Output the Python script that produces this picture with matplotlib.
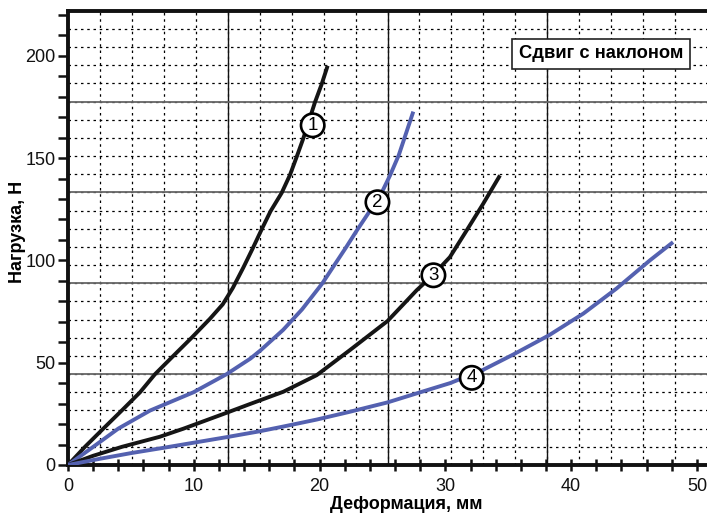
import matplotlib
matplotlib.use("Agg")
import matplotlib.pyplot as plt
import numpy as np

plt.rcParams['font.family'] = ['Liberation Sans', 'DejaVu Sans']

# Data (deformation, mm -> load, N)
x1 = [0, 1.35, 2.81, 4.27, 5.72, 6.92, 8.37, 9.83, 11.29, 12.3, 13.1, 13.94,
      14.68, 15.4, 16.1, 16.98, 17.65, 18.18, 18.7, 19.63, 20.16, 20.64]
y1 = [0, 8.9, 17.8, 26.6, 35.5, 44.4, 53.3, 62.2, 71.5, 78.5, 86.5, 96.5,
      105.8, 115.2, 124, 132.9, 141.8, 150.6, 159.5, 177.2, 186, 195.1]

x2 = [0, 2.01, 4.0, 6.52, 9.96, 12.61, 14.5, 15.3, 17.1, 18.6, 20.2, 21.1,
      22.1, 22.95, 23.87, 24.93, 25.6, 26.3, 27.45]
y2 = [0, 8.9, 17.8, 26.6, 35.5, 44.4, 52, 56, 66, 76, 88.6, 97,
      106.3, 114.5, 123, 133, 141.5, 151.5, 172.7]

x3 = [0, 2.0, 4.3, 7.3, 9.2, 12.6, 14.47, 17.12, 19.77, 22.4, 25.41, 27.72,
      29.0, 30.36, 31.69, 33.0, 34.34]
y3 = [0, 4.5, 8.9, 13.8, 17.8, 25.5, 29.8, 35.8, 43.9, 56.1, 70.4, 85.4,
      92.7, 101.6, 114.6, 127.6, 141.5]

x4 = [0, 2.5, 5, 7.5, 10, 12.6, 15.26, 17.12, 19.77, 22.4, 25.41, 27.72, 30.37,
      33.0, 35.4, 38.24, 40.97, 43.6, 46.26, 48.1]
y4 = [0, 3, 5.8, 8.3, 10.9, 13.6, 16.5, 18.8, 22.2, 26, 30.6, 35, 40,
      46.5, 54, 63.4, 74, 86.2, 100, 108.9]

labels = ['1', '2', '3', '4']
label_pos = [(19.45, 166), (24.6, 128.4), (29.05, 92.7), (32.1, 42.6)]

title = 'Сдвиг с наклоном'
xlabel = 'Деформация, мм'
ylabel = 'Нагрузка, Н'

BLACK = '#151515'
BLUE = '#5461b0'

fig = plt.figure(figsize=(7.07, 5.15), dpi=100)
ax = fig.add_axes([0.0962, 0.0971, 0.9038, 0.8821])

xmax, ymax = 50.8, 222.0
ax.set_xlim(0, xmax)
ax.set_ylim(0, ymax)

# grid: 4 x 5 major cells, each split in 5
for gx in np.linspace(0, xmax, 21)[1:-1]:
    ax.axvline(gx, color='black', lw=0.9, ls=(0, (2, 3)), zorder=1)
for gy in np.linspace(0, ymax, 26)[1:-1]:
    ax.axhline(gy, color='black', lw=0.9, ls=(0, (2, 3)), zorder=1)
for gx in np.linspace(0, xmax, 5)[1:-1]:
    ax.axvline(gx, color='#111111', lw=1.0, zorder=1.5)
for gy in np.linspace(0, ymax, 6)[1:-1]:
    ax.axhline(gy, color='#666666', lw=1.3, zorder=1.5)

ax.plot(x1, y1, color=BLACK, lw=2.8, zorder=3, solid_capstyle='butt', solid_joinstyle='round')
ax.plot(x2, y2, color=BLUE, lw=2.8, zorder=3, solid_capstyle='butt', solid_joinstyle='round')
ax.plot(x3, y3, color=BLACK, lw=2.8, zorder=3, solid_capstyle='butt', solid_joinstyle='round')
ax.plot(x4, y4, color=BLUE, lw=2.8, zorder=3, solid_capstyle='butt', solid_joinstyle='round')

for lab, (lx, ly) in zip(labels, label_pos):
    ax.text(lx, ly, lab, fontsize=13.5, ha='center', va='center', zorder=5,
            bbox=dict(boxstyle='circle,pad=0.17', fc='white', ec='black', lw=1.9))

ax.text(0.834, 0.905, title, transform=ax.transAxes, fontsize=13.2,
        fontweight='bold', ha='center', va='center', zorder=6,
        bbox=dict(boxstyle='square,pad=0.36', fc='white', ec='#222222', lw=1.2))

ax.set_xticks(np.arange(0, 51, 10))
ax.set_xticks(np.arange(0, 51, 2), minor=True)
ax.set_yticks(np.arange(0, 201, 50))
ax.set_yticks(np.arange(0, 221, 10), minor=True)

ax.tick_params(axis='x', which='both', direction='inout', length=9, width=1.8,
               labelsize=13, colors='#111111', pad=5)
ax.tick_params(axis='y', which='both', direction='out', length=7, width=1.8,
               labelsize=13, colors='#111111', pad=2)

for side in ['left', 'bottom', 'top']:
    ax.spines[side].set_linewidth(2.8)
    ax.spines[side].set_color('#111111')
ax.spines['right'].set_visible(False)

ax.set_xlabel(xlabel, fontsize=13, fontweight='bold')
ax.xaxis.set_label_coords(0.53, -0.068)
ax.set_ylabel(ylabel, fontsize=13, fontweight='bold')
ax.yaxis.set_label_coords(-0.066, 0.513)

fig.savefig('out.png', dpi=100)
